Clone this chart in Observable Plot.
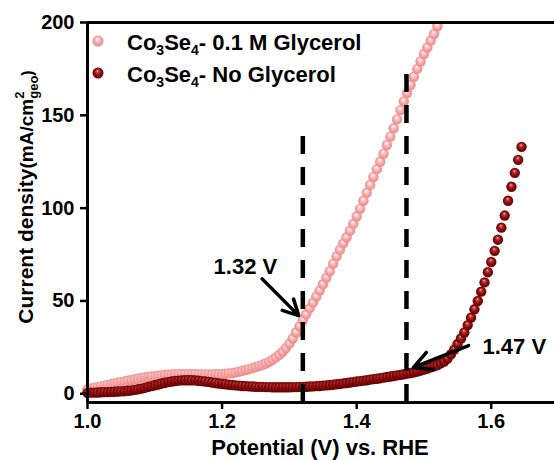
<!DOCTYPE html>
<html><head><meta charset="utf-8">
<script src="https://cdn.jsdelivr.net/npm/d3@7"></script>
<script src="https://cdn.jsdelivr.net/npm/@observablehq/plot@0.6"></script>
<style>
html,body{margin:0;padding:0;background:#fff;}
#chart{width:554px;height:460px;overflow:hidden;}
</style></head><body><div id="chart"></div>
<script>
// Potential grid (V vs. RHE)
const potential = [
1.000,1.005,1.010,1.015,1.020,1.025,1.030,1.035,1.040,1.045,
1.050,1.055,1.060,1.065,1.070,1.075,1.080,1.085,1.090,1.095,
1.100,1.105,1.110,1.115,1.120,1.125,1.130,1.135,1.140,1.145,
1.150,1.155,1.160,1.165,1.170,1.175,1.180,1.185,1.190,1.195,
1.200,1.205,1.210,1.215,1.220,1.225,1.230,1.235,1.240,1.245,
1.250,1.255,1.260,1.265,1.270,1.275,1.280,1.285,1.290,1.295,
1.300,1.305,1.310,1.315,1.320,1.325,1.330,1.335,1.340,1.345,
1.350,1.355,1.360,1.365,1.370,1.375,1.380,1.385,1.390,1.395,
1.400,1.405,1.410,1.415,1.420,1.425,1.430,1.435,1.440,1.445,
1.450,1.455,1.460,1.465,1.470,1.475,1.480,1.485,1.490,1.495,
1.500,1.505,1.510,1.515,1.520,1.525,1.530,1.535,1.540,1.545,
1.550,1.555,1.560,1.565,1.570,1.575,1.580,1.585,1.590,1.595,
1.600,1.605,1.610,1.615,1.620,1.625,1.630,1.635,1.640,1.645];

// Co3Se4 - 0.1 M Glycerol (mA/cm2)
const glycerolCurrent = [
2.5,2.9,3.3,3.6,4.0,4.4,4.8,5.1,5.5,5.9,
6.3,6.6,7.0,7.4,7.8,8.1,8.5,8.8,9.0,9.3,
9.5,9.7,9.9,10.1,10.3,10.4,10.5,10.6,10.6,10.6,
10.6,10.5,10.5,10.5,10.4,10.4,10.4,10.4,10.5,10.5,
10.6,10.8,11.0,11.2,11.5,11.9,12.3,12.8,13.3,13.8,
14.4,15.0,15.6,16.3,17.2,18.3,19.6,21.0,22.6,24.6,
27.0,29.8,33.0,36.3,39.6,42.8,46.0,49.1,52.3,55.6,
59.0,62.5,66.0,70.0,74.0,77.5,81.0,84.3,87.8,91.5,
95.5,99.6,104.0,108.3,112.5,116.8,121.0,125.0,129.3,134.0,
138.5,143.0,147.8,152.8,157.5,162.0,166.3,170.7,175.0,179.0,
183.0,186.5,190.2,193.8,198.0];

// Co3Se4 - No Glycerol (mA/cm2)
const noGlycerolCurrent = [
0.5,0.6,0.6,0.7,0.8,0.9,0.9,1.0,1.1,1.2,
1.3,1.4,1.6,1.8,2.1,2.4,2.8,3.2,3.7,4.1,
4.6,5.0,5.5,5.9,6.3,6.6,6.9,7.1,7.2,7.3,
7.3,7.3,7.2,7.0,6.8,6.6,6.4,6.1,5.8,5.5,
5.3,5.1,4.9,4.7,4.5,4.4,4.2,4.1,4.0,3.9,
3.8,3.7,3.7,3.6,3.6,3.5,3.5,3.5,3.5,3.5,
3.5,3.6,3.6,3.7,3.7,3.8,3.9,4.0,4.1,4.2,
4.4,4.5,4.7,4.9,5.1,5.3,5.6,5.8,6.1,6.3,
6.6,6.8,7.1,7.3,7.6,7.9,8.1,8.4,8.7,9.0,
9.3,9.6,9.9,10.2,10.5,10.9,11.2,11.6,12.0,12.5,
13.0,13.6,14.2,14.8,15.5,16.4,17.4,19.0,21.2,23.8,
26.8,29.8,33.0,37.0,41.0,45.5,50.0,55.0,60.0,65.5,
71.0,77.0,83.0,89.5,96.0,104.0,111.5,119.0,126.0,133.0];

const xTicks = [1.0, 1.2, 1.4, 1.6];
const yTicks = [0, 50, 100, 150, 200];
const xDomain = [1.0, 1.694];
const yDomain = [-4.7, 200];

// onset markers (dashed lines): potential and top of the dashed line
const onsetV = [1.32, 1.474];
const onsetTop = [141.6, 174];

// annotation labels and arrows (data coordinates)
const annotLabel = ["1.32 V", "1.47 V"];
const annotTextV = [1.1874, 1.587];
const annotTextJ = [68.5, 25.0];
const arrowFromV = [1.2595, 1.5663];
const arrowFromJ = [61.9, 26.0];
const arrowToV = [1.3139, 1.4845];
const arrowToJ = [42.1, 14.2];

const glyData = glycerolCurrent.map((j, i) => ({V: potential[i], J: j}));
const noGlyData = noGlycerolCurrent.map((j, i) => ({V: potential[i], J: j}));
const onsets = onsetV.map((v, i) => ({V: v, top: onsetTop[i]}));
const annots = annotLabel.map((l, i) => ({label: l, tx: annotTextV[i], ty: annotTextJ[i],
  x1: arrowFromV[i], y1: arrowFromJ[i], x2: arrowToV[i], y2: arrowToJ[i]}));

const FONT = "'Liberation Sans', Arial, Helvetica, sans-serif";

const plot = Plot.plot({
  width: 554, height: 460,
  marginLeft: 87, marginRight: 0, marginTop: 22, marginBottom: 58,
  x: {domain: xDomain},
  y: {domain: yDomain},
  style: {fontFamily: FONT, fontSize: "20px", fontWeight: "bold", color: "#000", background: "#fff", overflow: "visible"},
  marks: [
    Plot.dot(glyData, {x: "V", y: "J", r: 5.2, fill: "#f4a0a0", className: "dotsPink"}),
    Plot.dot(noGlyData, {x: "V", y: "J", r: 5.2, fill: "#8b0000", className: "dotsDark"}),
    Plot.ruleX(onsets, {x: "V", y1: yDomain[0], y2: "top", stroke: "#000", strokeWidth: 4.5, strokeDasharray: "18,13"}),
    Plot.arrow(annots, {x1: "x1", y1: "y1", x2: "x2", y2: "y2", stroke: "#000", strokeWidth: 3.5, headLength: 13, headAngle: 55}),
    Plot.text(annots, {x: "tx", y: "ty", text: "label", textAnchor: "start", fontSize: 22, fontWeight: "bold", fill: "#000"}),
    Plot.axisX({ticks: xTicks, tickFormat: d3.format(".1f"), tickSize: 7, tickPadding: 4, strokeWidth: 2.5, label: null}),
    Plot.axisY({ticks: yTicks, tickSize: 7, tickPadding: 6, strokeWidth: 2.5, label: null}),
    Plot.ruleY([yDomain[0]], {stroke: "#000", strokeWidth: 3}),
    Plot.ruleY([yDomain[1]], {stroke: "#000", strokeWidth: 3}),
    Plot.ruleX([xDomain[0]], {stroke: "#000", strokeWidth: 3})
  ]
});

const svg = d3.select(plot);
const defs = svg.insert("defs", ":first-child");
function grad(id, stops) {
  const g = defs.append("radialGradient").attr("id", id)
    .attr("cx", "0.5").attr("cy", "0.5").attr("r", "0.55").attr("fx", "0.45").attr("fy", "0.3");
  stops.forEach(([o, c]) => g.append("stop").attr("offset", o).attr("stop-color", c));
}
grad("gPink", [[0, "#ffffff"], [0.25, "#fcd3d3"], [0.6, "#f5a2a2"], [1, "#ea8585"]]);
grad("gDark", [[0, "#f4d0d0"], [0.2, "#c24444"], [0.55, "#8e0c0c"], [1, "#580000"]]);
svg.selectAll(".dotsPink").attr("fill", "url(#gPink)");
svg.selectAll(".dotsDark").attr("fill", "url(#gDark)");

// legend
const leg = svg.append("g").attr("font-family", FONT).attr("font-weight", "bold").attr("text-anchor", "start");
const legRows = [{y: 41, fill: "url(#gPink)", tail: "- 0.1 M Glycerol"}, {y: 73, fill: "url(#gDark)", tail: "- No Glycerol"}];
legRows.forEach(r => {
  leg.append("circle").attr("cx", 98).attr("cy", r.y).attr("r", 5.5).attr("fill", r.fill);
  const t = leg.append("text").attr("x", 127).attr("y", r.y + 9).attr("font-size", 22).attr("fill", "#000").attr("text-anchor", "start");
  t.append("tspan").text("Co");
  t.append("tspan").attr("font-size", 14).attr("dy", 5).text("3");
  t.append("tspan").attr("dy", -5).text("Se");
  t.append("tspan").attr("font-size", 14).attr("dy", 5).text("4");
  t.append("tspan").attr("dy", -5).text(r.tail);
});

// x title
svg.append("text").attr("x", 320).attr("y", 455).attr("text-anchor", "middle")
  .attr("font-family", FONT).attr("font-weight", "bold").attr("font-size", 22).attr("fill", "#000")
  .text("Potential (V) vs. RHE");

// y title
const yt = svg.append("text").attr("transform", "translate(33,197) rotate(-90)").attr("text-anchor", "middle")
  .attr("font-family", FONT).attr("font-weight", "bold").attr("font-size", 21).attr("fill", "#000");
yt.append("tspan").text("Current density");
yt.append("tspan").attr("font-size", 19).text("(mA/cm");
yt.append("tspan").attr("font-size", 13).attr("dy", -9).text("2");
yt.append("tspan").attr("font-size", 13).attr("dy", 14).attr("dx", -7.2).text("geo");
yt.append("tspan").attr("font-size", 16).attr("dy", -5).text(")");

document.getElementById("chart").appendChild(plot);
</script>
</body></html>
